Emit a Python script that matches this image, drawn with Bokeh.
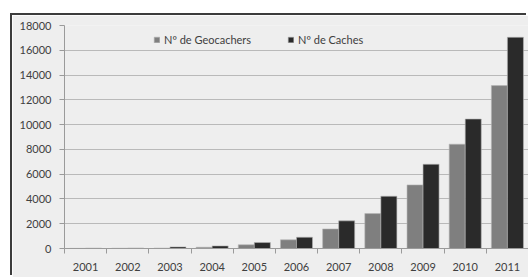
from bokeh.plotting import figure
from bokeh.models import FixedTicker, Legend, LegendItem
from bokeh.embed import file_html
from bokeh.resources import INLINE

years = ["2001", "2002", "2003", "2004", "2005", "2006", "2007", "2008", "2009", "2010", "2011"]
geocachers = [10, 20, 30, 100, 300, 700, 1580, 2820, 5130, 8420, 13150]
caches = [30, 40, 130, 210, 480, 910, 2230, 4220, 6800, 10450, 17050]

FONT = "Lato"
TXT = "#404040"

n = len(years)
centers = [i + 0.5 for i in range(n)]

p = figure(width=516, height=262, x_range=(0, n), y_range=(0, 18000),
           output_backend="svg", toolbar_location=None,
           min_border_left=52, min_border_right=0, min_border_top=10, min_border_bottom=29,
           background_fill_color="#eeeeee", border_fill_color="#eeeeee",
           margin=(15, 0, 0, 12),
           styles={"box-shadow": "-2px -2px 0 0 #3c3c3c"})
p.outline_line_color = None

w = 0.38
r1 = p.vbar(x=[c - w / 2 for c in centers], top=geocachers, width=w,
            fill_color="#7f7f7f", line_color="#b5b5b5", line_width=0.6)
r2 = p.vbar(x=[c + w / 2 for c in centers], top=caches, width=w,
            fill_color="#2a2a2a", line_color="#b5b5b5", line_width=0.6)

# x axis
p.xaxis.ticker = FixedTicker(ticks=centers, minor_ticks=list(range(n + 1)))
p.xaxis.major_label_overrides = {c: y for c, y in zip(centers, years)}
p.xaxis.major_tick_out = 0
p.xaxis.major_tick_in = 0
p.xaxis.minor_tick_out = 5
p.xaxis.minor_tick_in = 0
p.xaxis.minor_tick_line_color = "#9a9a9a"
p.xaxis.axis_line_color = "#9a9a9a"
p.xaxis.major_label_standoff = 9
p.xgrid.grid_line_color = None

# y axis
p.yaxis.ticker = FixedTicker(ticks=list(range(0, 18001, 2000)))
p.yaxis.major_tick_out = 5
p.yaxis.major_tick_in = 0
p.yaxis.minor_tick_line_color = None
p.yaxis.major_tick_line_color = "#9a9a9a"
p.yaxis.axis_line_color = "#9a9a9a"
p.yaxis.major_label_standoff = 8
p.ygrid.grid_line_color = "#b9b9b9"

for ax in (p.xaxis, p.yaxis):
    ax.major_label_text_font = FONT
    ax.major_label_text_font_size = "11px"
    ax.major_label_text_color = TXT

legend = Legend(items=[LegendItem(label="Nº de Geocachers", renderers=[r1]),
                       LegendItem(label="Nº de Caches", renderers=[r2])],
                orientation="horizontal", location=(89, 202),
                background_fill_alpha=0, border_line_color=None,
                padding=0, margin=0, spacing=36, label_standoff=4,
                glyph_width=7, glyph_height=7, label_height=12,
                label_text_font=FONT, label_text_font_size="11px",
                label_text_color=TXT)
p.add_layout(legend, "center")

open("out.html", "w").write(file_html(p, INLINE))
